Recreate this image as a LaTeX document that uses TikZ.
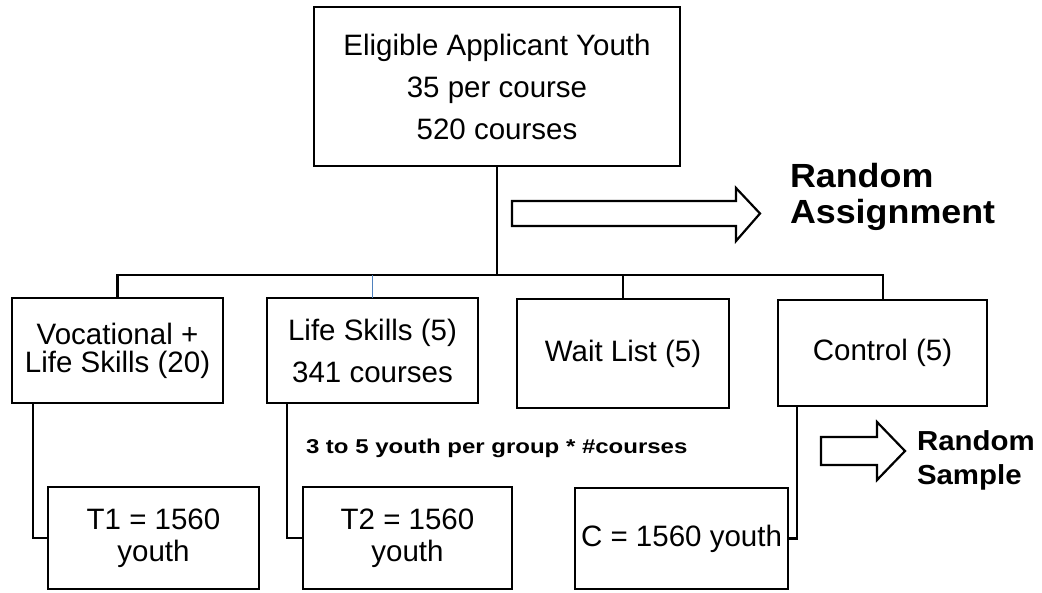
\documentclass[tikz,border=0pt]{standalone}
\usepackage{fontspec}
\setmainfont{Liberation Sans}
\newfontfamily\bigbold[FakeStretch=1.07]{Liberation Sans}
\newfontfamily\midbold[FakeStretch=1.07]{Liberation Sans}
\newfontfamily\notebold[FakeStretch=1.2]{Liberation Sans}
\definecolor{linkblue}{RGB}{79,129,189}
\begin{document}
\begin{tikzpicture}[x=1pt,y=-1pt,inner sep=0pt,outer sep=0pt,line width=2.6pt,
blk/.style={draw,rectangle,inner sep=2pt,align=center,line width=2.6pt},
txt/.style={font=\fontsize{29.5}{#1}\selectfont},
conn/.style={line width=2.6pt},
blockarrow/.style={draw,line width=2.2pt,line join=miter,fill=white}]
\useasboundingbox (0,0) rectangle (1042,592);
\draw (497,86.5) node[blk,txt=42,minimum width=366,minimum height=159] (top) {Eligible Applicant Youth\\35 per course\\520 courses};
\draw (117.5,350.5) node[blk,txt=28,minimum width=211,minimum height=105] (voc) {Vocational +\\Life Skills (20)};
\draw (372.5,350.5) node[blk,txt=42,minimum width=211,minimum height=105] (life) {Life Skills (5)\\341 courses};
\draw (623,353.5) node[blk,txt=42,minimum width=212,minimum height=109] (wait) {Wait List (5)};
\draw (882.5,353) node[blk,txt=42,minimum width=209,minimum height=106] (ctl) {Control (5)};
\draw (153.5,538) node[blk,txt=32,minimum width=211,minimum height=102] (t1) {T1 = 1560\\youth};
\draw (407.5,538) node[blk,txt=32,minimum width=209,minimum height=102] (t2) {T2 = 1560\\youth};
\draw (681.5,538.5) node[blk,txt=42,minimum width=213,minimum height=101] (cbox) {C = 1560 youth};
\coordinate (bar) at (497,275);
\draw[conn] (top.south) -- (bar);
\draw[conn] (voc.north) |- (wait.north |- bar) -- (wait.north);
\draw[conn,line width=2pt] (wait.north |- bar) -| (ctl.north);
\draw[line width=1.8pt,linkblue] (life.north) -- (life.north |- bar);
\draw[conn] ([xshift=21]voc.south west) |- (t1.west);
\draw[conn] ([xshift=20]life.south west) |- (t2.west);
\draw[conn] ([xshift=19]ctl.south west) |- (cbox.east);
\draw[blockarrow] (512,201) -- (736,201) -- (736,188) -- (760,213.5) -- (736,241) -- (736,226) -- (512,226) -- cycle;
\draw[blockarrow] (821,437) -- (877,437) -- (877,422) -- (905,451) -- (877,480) -- (877,465) -- (821,465) -- cycle;
\draw (790,187) node[anchor=base west,font=\bigbold\bfseries\fontsize{33.5}{38}\selectfont] (assign1) {Random};
\draw (790,223) node[anchor=base west,font=\bigbold\bfseries\fontsize{33.5}{38}\selectfont] (assign2) {Assignment};
\draw (917,450) node[anchor=base west,font=\midbold\bfseries\fontsize{27.5}{33}\selectfont] (sample1) {Random};
\draw (917,484) node[anchor=base west,font=\midbold\bfseries\fontsize{27.5}{33}\selectfont] (sample2) {Sample};
\draw (306,453) node[anchor=base west,font=\notebold\bfseries\fontsize{20}{24}\selectfont] (note) {3 to 5 youth per group * \#courses};
\end{tikzpicture}
\end{document}
